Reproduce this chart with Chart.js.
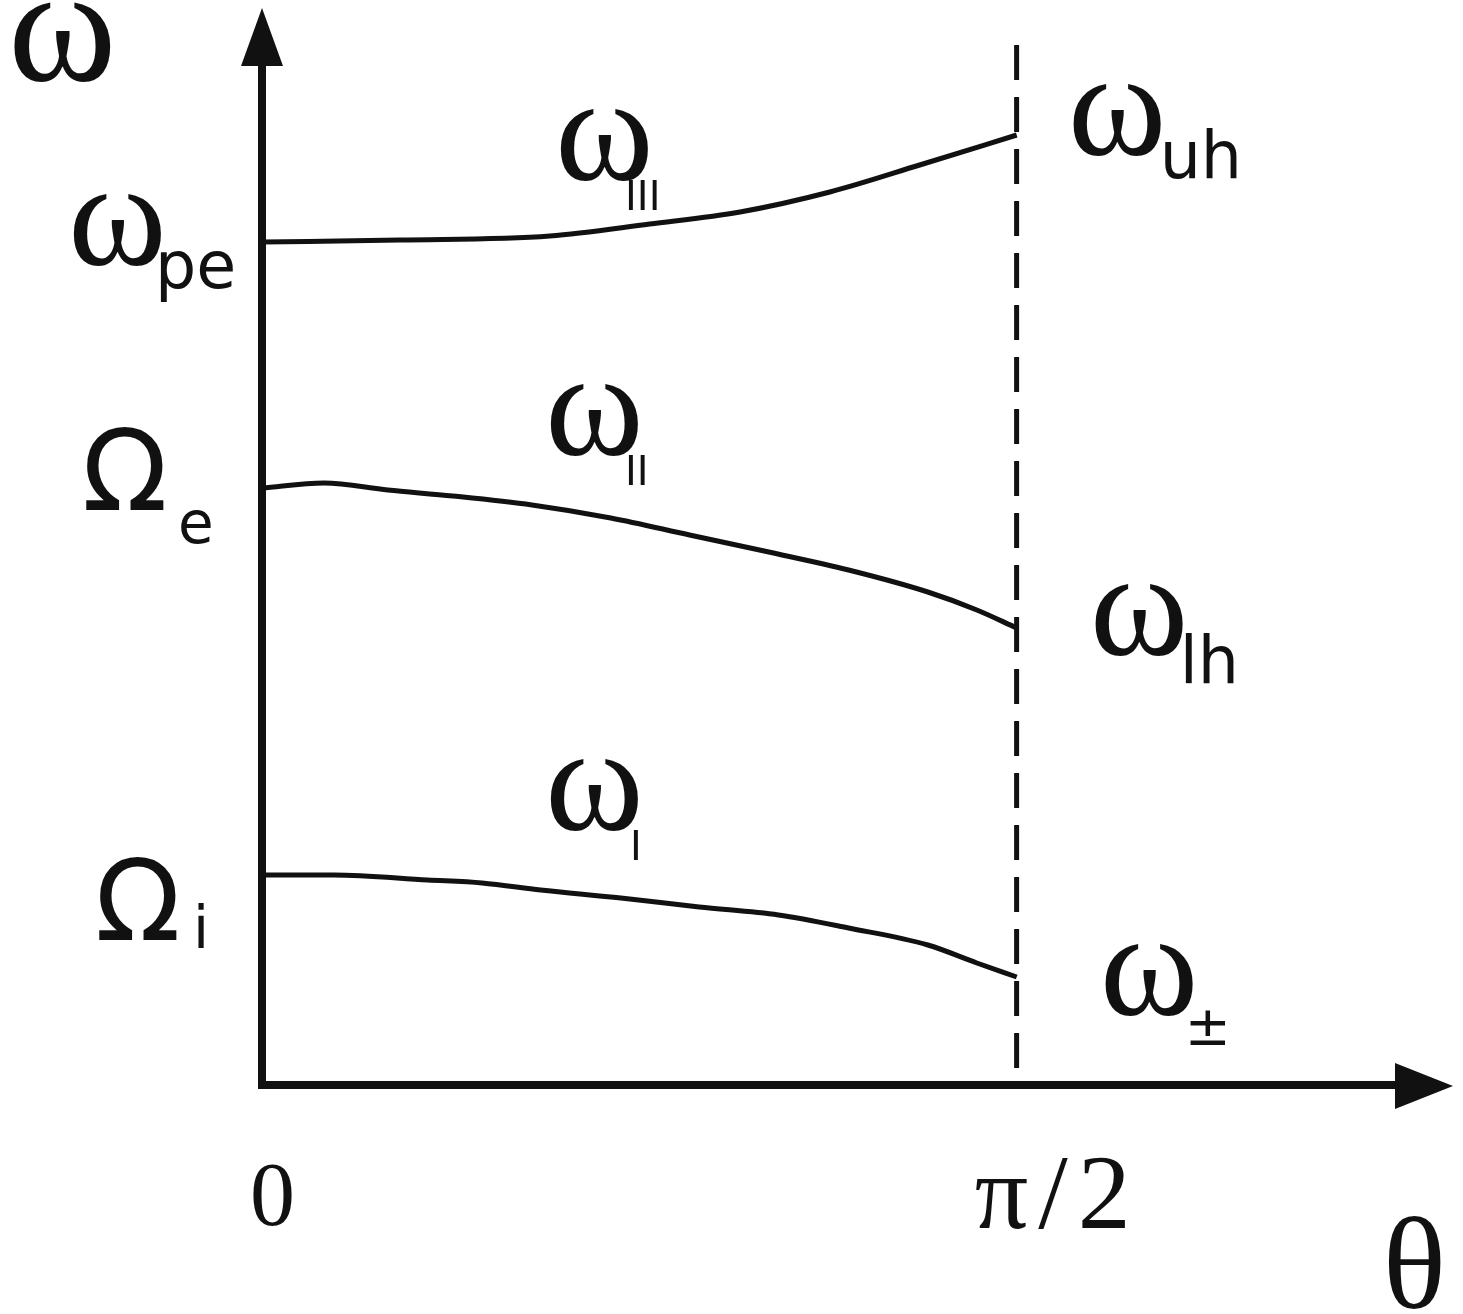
<!DOCTYPE html>
<html>
<head>
<meta charset="utf-8">
<script src="https://cdn.jsdelivr.net/npm/chart.js@4.4.0/dist/chart.umd.min.js"></script>
<style>
  body { margin: 0; background: #fff; }
  #wrap { width: 1463px; height: 1314px; }
</style>
</head>
<body>
<div id="wrap"><canvas id="myChart"></canvas></div>
<script>
// angle theta (rad) against frequency (arbitrary units)
const thetaIII = [0, 0.287, 0.599, 0.807, 0.995, 1.182, 1.369, 1.571];
const omegaIII = [8.43, 8.45, 8.49, 8.61, 8.73, 8.93, 9.20, 9.50];

const thetaII = [0, 0.129, 0.262, 0.397, 0.562, 0.726, 0.890, 1.055, 1.221, 1.386, 1.488, 1.571];
const omegaII = [5.97, 6.02, 5.95, 5.89, 5.80, 5.67, 5.50, 5.33, 5.15, 4.93, 4.75, 4.57];

const thetaI = [0, 0.150, 0.345, 0.458, 0.580, 0.747, 0.910, 1.075, 1.221, 1.386, 1.488, 1.571];
const omegaI = [2.10, 2.10, 2.05, 2.02, 1.95, 1.87, 1.78, 1.70, 1.57, 1.40, 1.22, 1.08];

const dashTheta = [Math.PI / 2, Math.PI / 2];
const dashOmega = [10.4, 0];

const xMax = 2.5;
const yMax = 10.73;

function pts(xs, ys) {
    return xs.map((v, i) => ({ x: v, y: ys[i] }));
}

function curve(data) {
    return {
        data: data,
        borderColor: '#111',
        borderWidth: 5,
        pointRadius: 0,
        tension: 0.4,
        cubicInterpolationMode: 'monotone',
        fill: false
    };
}

const serif = '"Liberation Serif", "DejaVu Serif", serif';
const sans = '"DejaVu Sans", sans-serif';

// [main, sub, theta, omega, mainFont, subFont, subDx, subDy, spacing]
const labels = [
    ['ω', '', -0.5285, 10.05, '165px ' + serif],
    ['ω', 'pe', -0.4037, 8.20, '150px ' + serif, '65px ' + sans, 87, 23],
    ['Ω', 'e', -0.3745, 5.75, '112px ' + sans, '58px ' + sans, 96, 33],
    ['Ω', 'i', -0.3475, 1.45, '112px ' + sans, '58px ' + sans, 98, 8],
    ['ω', 'uh', 1.677, 9.30, '150px ' + serif, '65px ' + sans, 92, 23],
    ['ω', 'lh', 1.723, 4.30, '150px ' + serif, '65px ' + sans, 90, 28],
    ['ω', '±', 1.744, 0.70, '150px ' + serif, '55px ' + sans, 85, 30],
    ['ω', 'III', 0.610, 9.05, '150px ' + serif, '40px ' + sans, 70, 30],
    ['ω', 'II', 0.589, 6.30, '150px ' + serif, '40px ' + sans, 80, 30],
    ['ω', 'I', 0.589, 2.55, '150px ' + serif, '40px ' + sans, 85, 30],
    ['0', '', -0.025, -1.40, '90px ' + serif],
    ['π/2', '', 1.4836, -1.43, '106px ' + serif, '', 0, 0, '10px'],
    ['θ', '', 2.333, -2.23, '132px ' + serif]
];

const sketchAxes = {
    id: 'sketchAxes',
    afterDatasetsDraw(chart) {
        const ctx = chart.ctx;
        const sx = chart.scales.x, sy = chart.scales.y;
        const x0 = sx.getPixelForValue(0);
        const y0 = sy.getPixelForValue(0);
        const top = chart.chartArea.top;
        const right = chart.chartArea.right - 10;

        ctx.save();
        ctx.strokeStyle = '#111';
        ctx.fillStyle = '#111';
        ctx.lineWidth = 8;
        ctx.lineCap = 'butt';

        // vertical axis + arrow
        ctx.beginPath();
        ctx.moveTo(x0, y0 + 4);
        ctx.lineTo(x0, top + 40);
        ctx.stroke();
        ctx.beginPath();
        ctx.moveTo(x0, top - 4);
        ctx.lineTo(x0 - 21, top + 54);
        ctx.lineTo(x0 + 21, top + 54);
        ctx.closePath();
        ctx.fill();

        // horizontal axis + arrow
        ctx.beginPath();
        ctx.moveTo(x0 - 4, y0);
        ctx.lineTo(right - 40, y0);
        ctx.stroke();
        ctx.beginPath();
        ctx.moveTo(right, y0 + 1);
        ctx.lineTo(right - 58, y0 - 22);
        ctx.lineTo(right - 58, y0 + 24);
        ctx.closePath();
        ctx.fill();

        // labels
        ctx.textAlign = 'left';
        ctx.textBaseline = 'alphabetic';
        labels.forEach(l => {
            const px = sx.getPixelForValue(l[2]);
            const py = sy.getPixelForValue(l[3]);
            ctx.font = l[4];
            ctx.letterSpacing = l[8] || '0px';
            ctx.fillText(l[0], px, py);
            ctx.letterSpacing = '0px';
            if (l[1]) {
                ctx.font = l[5];
                ctx.fillText(l[1], px + l[6], py + l[7]);
            }
        });
        ctx.restore();
    }
};

new Chart('myChart', {
    type: 'line',
    data: {
        datasets: [
            curve(pts(thetaIII, omegaIII)),
            curve(pts(thetaII, omegaII)),
            curve(pts(thetaI, omegaI)),
            {
                data: pts(dashTheta, dashOmega),
                borderColor: '#111',
                borderWidth: 5,
                borderDash: [35, 17],
                pointRadius: 0,
                tension: 0
            }
        ]
    },
    options: {
        responsive: true,
        maintainAspectRatio: false,
        animation: false,
        layout: { padding: { left: 262, right: 0, top: 12, bottom: 229 } },
        plugins: { legend: { display: false }, tooltip: { enabled: false } },
        scales: {
            x: { type: 'linear', min: 0, max: xMax, display: false },
            y: { type: 'linear', min: 0, max: yMax, display: false }
        }
    },
    plugins: [sketchAxes]
});
</script>
</body>
</html>
